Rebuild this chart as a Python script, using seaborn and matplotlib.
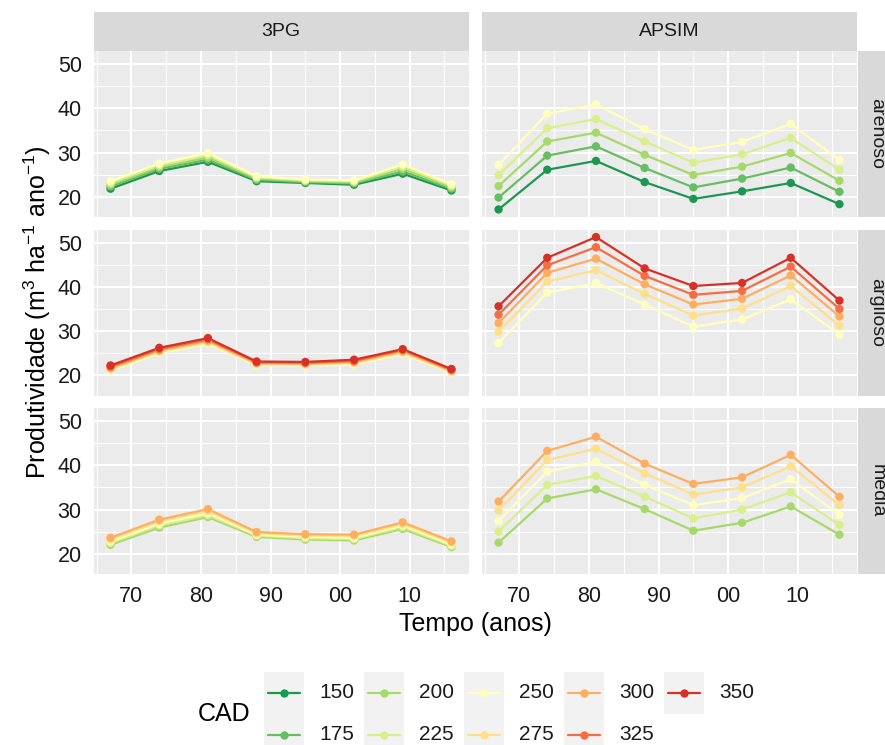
import numpy as np
import pandas as pd
import matplotlib
matplotlib.use("Agg")
import matplotlib.pyplot as plt
import seaborn as sns
from matplotlib.patches import Rectangle
from matplotlib.lines import Line2D
from matplotlib.ticker import FixedLocator, FuncFormatter

# ---------------- data ----------------
years = [1967, 1974, 1981, 1988, 1995, 2002, 2009, 2016]
cad_levels = [150, 175, 200, 225, 250, 275, 300, 325, 350]
cad_colors = ["#1a9850", "#66bd63", "#a6d96a", "#d9ef8b", "#ffffbf",
              "#fee08b", "#fdae61", "#f46d43", "#d73027"]
models = ["3PG", "APSIM"]
soils = ["arenoso", "argiloso", "media"]
x_tick_years = [1970, 1980, 1990, 2000, 2010]
y_ticks = [20, 30, 40, 50]

pg_arenoso = {
    150: [21.8, 25.8, 27.9, 23.5, 23.1, 22.7, 25.2, 21.4],
    175: [22.3, 26.3, 28.4, 23.8, 23.3, 23.0, 25.7, 21.8],
    200: [22.7, 26.7, 28.9, 24.1, 23.5, 23.2, 26.3, 22.1],
    225: [23.1, 27.1, 29.4, 24.4, 23.7, 23.5, 26.8, 22.5],
    250: [23.5, 27.5, 29.9, 24.6, 23.9, 23.7, 27.3, 22.8],
}
pg_argiloso = {
    250: [21.0, 25.0, 27.1, 22.3, 22.2, 22.4, 24.8, 20.6],
    275: [21.3, 25.3, 27.4, 22.5, 22.4, 22.7, 25.1, 20.8],
    300: [21.6, 25.6, 27.8, 22.7, 22.6, 23.0, 25.4, 21.0],
    325: [21.9, 25.9, 28.1, 22.9, 22.8, 23.2, 25.7, 21.2],
    350: [22.2, 26.2, 28.4, 23.1, 23.0, 23.5, 25.9, 21.4],
}
pg_media = {
    200: [22.0, 25.9, 28.3, 23.8, 23.2, 23.0, 25.6, 21.5],
    225: [22.4, 26.4, 28.7, 24.1, 23.5, 23.3, 26.0, 21.8],
    250: [22.8, 26.8, 29.2, 24.3, 23.8, 23.6, 26.4, 22.1],
    275: [23.2, 27.3, 29.6, 24.6, 24.1, 24.0, 26.7, 22.5],
    300: [23.6, 27.7, 30.1, 24.9, 24.4, 24.3, 27.1, 22.8],
}
apsim_arenoso = {
    150: [17.1, 26.1, 28.1, 23.3, 19.5, 21.2, 23.1, 18.3],
    175: [19.8, 29.3, 31.4, 26.5, 22.1, 24.1, 26.6, 21.1],
    200: [22.4, 32.5, 34.5, 29.5, 24.9, 26.8, 29.9, 23.6],
    225: [24.9, 35.5, 37.6, 32.5, 27.7, 29.6, 33.3, 26.1],
    250: [27.2, 38.8, 40.9, 35.3, 30.6, 32.4, 36.5, 28.3],
}
apsim_argiloso = {
    250: [27.3, 38.7, 40.9, 36.0, 31.0, 32.6, 37.2, 29.2],
    275: [29.8, 41.2, 43.8, 38.4, 33.5, 35.1, 40.2, 31.2],
    300: [31.8, 43.2, 46.4, 40.6, 36.0, 37.3, 42.6, 33.3],
    325: [33.7, 44.9, 49.0, 42.5, 38.2, 39.1, 44.6, 35.0],
    350: [35.6, 46.6, 51.3, 44.2, 40.2, 40.9, 46.6, 36.9],
}
apsim_media = {
    200: [22.5, 32.5, 34.6, 30.1, 25.2, 27.0, 30.7, 24.3],
    225: [25.0, 35.6, 37.6, 32.9, 28.0, 30.0, 33.9, 26.5],
    250: [27.4, 38.6, 40.8, 35.6, 31.0, 32.6, 36.9, 28.8],
    275: [29.8, 41.2, 43.8, 38.2, 33.4, 35.0, 39.8, 31.0],
    300: [31.8, 43.3, 46.5, 40.4, 35.8, 37.3, 42.4, 32.9],
}

panels = [
    ("3PG", "arenoso", pg_arenoso), ("APSIM", "arenoso", apsim_arenoso),
    ("3PG", "argiloso", pg_argiloso), ("APSIM", "argiloso", apsim_argiloso),
    ("3PG", "media", pg_media), ("APSIM", "media", apsim_media),
]
frames = []
for model, soil, table in panels:
    for cad, vals in table.items():
        frames.append(pd.DataFrame({"model": model, "soil": soil, "CAD": cad,
                                    "ano": years, "prod": vals}))
df = pd.concat(frames, ignore_index=True)

# ---------------- style ----------------
sns.set_theme(style="white")
plt.rcParams["font.family"] = ["Liberation Sans", "DejaVu Sans"]
plt.rcParams["mathtext.fontset"] = "custom"
plt.rcParams["mathtext.rm"] = "Liberation Sans"
plt.rcParams["mathtext.it"] = "Liberation Sans:italic"
plt.rcParams["mathtext.bf"] = "Liberation Sans:bold"

W, H = 885, 745
fig = plt.figure(figsize=(W / 100, H / 100), dpi=100)
fig.patch.set_facecolor("white")


def fx(px):
    return px / W


def fy(py):
    return 1 - py / H


palette = dict(zip(cad_levels, cad_colors))
col_x = [93.5, 481.5]
col_w = 375
row_y = [51, 229.5, 408]
row_h = 166

ymin, ymax = df["prod"].min(), df["prod"].max()
ypad = 0.05 * (ymax - ymin)
xmin, xmax = min(years), max(years)
xpad = 0.05 * (xmax - xmin)

text_col = "#1A1A1A"
tick_col = "#333333"

for i, soil in enumerate(soils):
    for j, model in enumerate(models):
        ax = fig.add_axes([fx(col_x[j]), fy(row_y[i] + row_h), col_w / W, row_h / H])
        sub = df[(df["model"] == model) & (df["soil"] == soil)]
        order = [c for c in cad_levels if c in set(sub["CAD"])]
        sns.lineplot(data=sub, x="ano", y="prod", hue="CAD", hue_order=order,
                     palette=palette, linewidth=1.6, legend=False, ax=ax,
                     estimator=None, zorder=2)
        sns.scatterplot(data=sub, x="ano", y="prod", hue="CAD", hue_order=order,
                        palette=palette, s=36, linewidth=0, legend=False, ax=ax,
                        zorder=3)
        ax.set_xlim(xmin - xpad, xmax + xpad)
        ax.set_ylim(ymin - ypad, ymax + ypad)
        ax.set_facecolor("#EBEBEB")
        ax.xaxis.set_major_locator(FixedLocator(x_tick_years))
        ax.xaxis.set_minor_locator(FixedLocator([y - 5 for y in x_tick_years] + [x_tick_years[-1] + 5]))
        ax.yaxis.set_major_locator(FixedLocator(y_ticks))
        ax.yaxis.set_minor_locator(FixedLocator([15, 25, 35, 45, 55]))
        ax.xaxis.set_major_formatter(FuncFormatter(lambda v, p: f"{int(round(v)) % 100:02d}"))
        ax.grid(which="major", color="white", linewidth=1.5)
        ax.grid(which="minor", color="white", linewidth=0.75)
        ax.set_axisbelow(True)
        for s in ax.spines.values():
            s.set_visible(False)
        ax.set_xlabel("")
        ax.set_ylabel("")
        ax.tick_params(which="major", length=4.5, width=1.1, color=tick_col,
                       labelsize=15.5, labelcolor=text_col, pad=4)
        ax.tick_params(which="minor", length=0)
        if j != 0:
            ax.tick_params(axis="y", which="both", left=False, labelleft=False)
        if i != len(soils) - 1:
            ax.tick_params(axis="x", which="both", bottom=False, labelbottom=False)

        # top strips
        if i == 0:
            fig.patches.append(Rectangle((fx(col_x[j]), fy(51)), col_w / W, 39 / H,
                                         transform=fig.transFigure, facecolor="#D9D9D9",
                                         edgecolor="none", zorder=0))
            fig.text(fx(col_x[j] + col_w / 2), fy(31.5), model, ha="center", va="center",
                     fontsize=14, color=text_col)
        # right strips
        if j == 1:
            fig.patches.append(Rectangle((fx(858), fy(row_y[i] + row_h)), 39 / W, row_h / H,
                                         transform=fig.transFigure, facecolor="#D9D9D9",
                                         edgecolor="none", zorder=0))
            fig.text(fx(877), fy(row_y[i] + row_h / 2), soil, ha="center", va="center",
                     rotation=-90, fontsize=14, color=text_col)

# axis titles
fig.text(fx(37), fy(312.5), r"Produtividade (m$^{3}$ ha$^{-1}$ ano$^{-1}$)", rotation=90,
         ha="center", va="center", fontsize=18, color="black")
fig.text(fx(475), fy(624), "Tempo (anos)", ha="center", va="center", fontsize=18,
         color="black")

# legend (manual, ggplot-like)
fig.text(fx(198), fy(714), "CAD", ha="left", va="center", fontsize=18, color="black")
key_w, key_h = 40, 42
row_centers = [693, 735]
for k, (cad, colr) in enumerate(zip(cad_levels, cad_colors)):
    c, r = divmod(k, 2)
    kx = 264 + 100 * c
    cy = row_centers[r]
    fig.patches.append(Rectangle((fx(kx), fy(cy + key_h / 2)), key_w / W, key_h / H,
                                 transform=fig.transFigure, facecolor="#F2F2F2",
                                 edgecolor="none", zorder=0))
    fig.lines.append(Line2D([fx(kx + 4), fx(kx + key_w - 4)], [fy(cy), fy(cy)],
                            transform=fig.transFigure, color=colr, linewidth=1.6))
    fig.lines.append(Line2D([fx(kx + key_w / 2)], [fy(cy)], transform=fig.transFigure,
                            color=colr, marker="o", markersize=6, markeredgewidth=0,
                            linestyle="none"))
    fig.text(fx(kx + key_w + 15), fy(cy), str(cad), ha="left", va="center",
             fontsize=15, color=text_col)

fig.savefig("out.png", dpi=100, facecolor="white")
